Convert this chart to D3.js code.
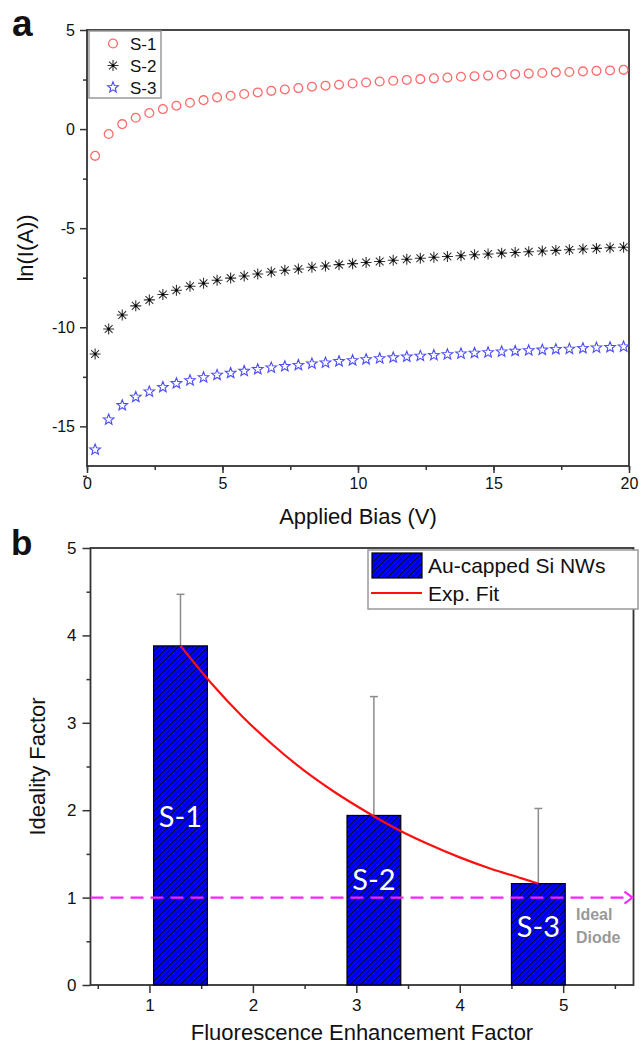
<!DOCTYPE html>
<html>
<head>
<meta charset="utf-8">
<script src="https://cdn.jsdelivr.net/npm/d3@7"></script>
<style>
  body { margin: 0; background: #fff; }
  text { font-family: "Liberation Sans", Arial, sans-serif; fill: #111; }
  .axis path, .axis line { stroke: #333; stroke-width: 1.5; }
  .axis text { font-size: 16px; fill: #111; }
</style>
</head>
<body>
<script>
// ---- panel a data : ln(I) vs applied bias ----
var biasV = [0.3, 0.8, 1.3, 1.8, 2.3, 2.8, 3.3, 3.8, 4.3, 4.8,
             5.3, 5.8, 6.3, 6.8, 7.3, 7.8, 8.3, 8.8, 9.3, 9.8,
             10.3, 10.8, 11.3, 11.8, 12.3, 12.8, 13.3, 13.8, 14.3, 14.8,
             15.3, 15.8, 16.3, 16.8, 17.3, 17.8, 18.3, 18.8, 19.3, 19.8];
var lnS1 = [-1.35, -0.25, 0.25, 0.57, 0.81, 1.01, 1.18, 1.33, 1.46, 1.60,
            1.68, 1.77, 1.85, 1.93, 2.00, 2.07, 2.14, 2.19, 2.24, 2.30,
            2.35, 2.40, 2.44, 2.48, 2.52, 2.56, 2.60, 2.64, 2.67, 2.70,
            2.74, 2.77, 2.80, 2.83, 2.86, 2.88, 2.91, 2.94, 2.96, 2.99];
var lnS2 = [-11.35, -10.09, -9.38, -8.92, -8.62, -8.35, -8.13, -7.93, -7.78, -7.63,
            -7.52, -7.41, -7.31, -7.21, -7.12, -7.06, -6.97, -6.91, -6.84, -6.79,
            -6.73, -6.68, -6.62, -6.57, -6.52, -6.47, -6.43, -6.39, -6.34, -6.30,
            -6.26, -6.23, -6.19, -6.15, -6.12, -6.09, -6.05, -6.02, -5.99, -5.96];
var lnS3 = [-16.18, -14.66, -13.94, -13.52, -13.25, -13.02, -12.83, -12.68, -12.53, -12.41,
            -12.31, -12.21, -12.12, -12.04, -11.97, -11.91, -11.84, -11.79, -11.72, -11.67,
            -11.62, -11.57, -11.53, -11.49, -11.45, -11.41, -11.37, -11.33, -11.30, -11.27,
            -11.23, -11.20, -11.17, -11.14, -11.11, -11.09, -11.06, -11.03, -11.01, -10.98];
var seriesNames = ["S-1", "S-2", "S-3"];
var aTicksX = [0, 5, 10, 15, 20];
var aTicksY = [-15, -10, -5, 0, 5];

// ---- panel b data : ideality factor vs enhancement ----
var samples = ["S-1", "S-2", "S-3"];
var enhancement = [1.30, 3.17, 4.76];
var ideality = [3.88, 1.94, 1.16];
var idealityUpper = [4.47, 3.30, 2.02];
var fitX = [1.30, 1.60, 1.90, 2.20, 2.50, 2.80, 3.10, 3.40, 3.70, 4.00, 4.30, 4.60, 4.76];
var fitY = [3.88, 3.45, 3.07, 2.74, 2.45, 2.20, 1.98, 1.78, 1.61, 1.46, 1.33, 1.22, 1.16];
var idealDiode = 1;
var bTicksX = [1, 2, 3, 4, 5];
var bTicksY = [0, 1, 2, 3, 4, 5];

var svg = d3.select("body").append("svg")
    .attr("width", 641)
    .attr("height", 1045);

var defs = svg.append("defs");
var hatch = defs.append("pattern")
    .attr("id", "hatch")
    .attr("patternUnits", "userSpaceOnUse")
    .attr("width", 5).attr("height", 5);
hatch.append("rect").attr("width", 5).attr("height", 5).attr("fill", "#0000ff");
hatch.append("path")
    .attr("d", "M0,5L5,0M-1,1L1,-1M4,6L6,4")
    .attr("stroke", "#000").attr("stroke-width", 0.8);

// ================= panel a =================
var xA = d3.scaleLinear().domain([0, 20]).range([87, 629]);
var yA = d3.scaleLinear().domain([-17, 5]).range([466, 30]);

var gA = svg.append("g");

gA.append("g").attr("class", "axis")
    .attr("transform", "translate(0," + yA(-17) + ")")
    .call(d3.axisBottom(xA).tickValues(d3.range(0, 20.1, 2.5)).tickSize(4).tickFormat(""));
gA.append("g").attr("class", "axis")
    .attr("transform", "translate(0," + yA(-17) + ")")
    .call(d3.axisBottom(xA).tickValues(aTicksX).tickSize(7).tickPadding(5).tickFormat(function(d) { return String(d); }));
gA.append("g").attr("class", "axis")
    .attr("transform", "translate(" + xA(0) + ",0)")
    .call(d3.axisLeft(yA).tickValues([-17.5, -12.5, -7.5, -2.5, 2.5]).tickSize(4).tickFormat(""));
gA.append("g").attr("class", "axis")
    .attr("transform", "translate(" + xA(0) + ",0)")
    .call(d3.axisLeft(yA).tickValues(aTicksY).tickSize(7).tickPadding(5).tickFormat(function(d) { return String(d); }));
gA.selectAll(".axis .domain").remove();

gA.append("rect")
    .attr("x", xA(0)).attr("y", yA(5))
    .attr("width", xA(20) - xA(0)).attr("height", yA(-17) - yA(5))
    .attr("fill", "none").attr("stroke", "#333").attr("stroke-width", 1.8);

function starPath(ro, ri) {
  var p = [];
  for (var i = 0; i < 10; i++) {
    var r = i % 2 ? ri : ro;
    var ang = -Math.PI / 2 + i * Math.PI / 5;
    p.push([r * Math.cos(ang), r * Math.sin(ang)]);
  }
  return "M" + p.join("L") + "Z";
}
var asterisk = "M0,-5.5V5.5M-5.5,0H5.5M-3.9,-3.9L3.9,3.9M-3.9,3.9L3.9,-3.9";

function drawMarker(sel, name) {
  if (name === "S-1") {
    sel.append("circle").attr("r", 4.4)
      .attr("fill", "none").attr("stroke", "#ff6b6b").attr("stroke-width", 1.3);
  } else if (name === "S-2") {
    sel.append("path").attr("d", asterisk)
      .attr("fill", "none").attr("stroke", "#333").attr("stroke-width", 1.1);
    sel.append("circle").attr("r", 1.3).attr("fill", "#000");
  } else {
    sel.append("path").attr("d", starPath(5.6, 2.4))
      .attr("fill", "none").attr("stroke", "#4b4bff").attr("stroke-width", 1.1);
  }
}

var seriesVals = [lnS1, lnS2, lnS3];
seriesNames.forEach(function(name, si) {
  gA.append("g").selectAll("g")
    .data(biasV.map(function(v, i) { return [v, seriesVals[si][i]]; }))
    .enter().append("g")
    .attr("transform", function(d) { return "translate(" + xA(d[0]) + "," + yA(d[1]) + ")"; })
    .each(function() { drawMarker(d3.select(this), name); });
});

// legend a
var legA = gA.append("g");
legA.append("rect")
    .attr("x", 89).attr("y", 31).attr("width", 72).attr("height", 67)
    .attr("fill", "#fff").attr("stroke", "#999").attr("stroke-width", 1.5);
seriesNames.forEach(function(name, i) {
  var row = legA.append("g").attr("transform", "translate(0," + (43.5 + i * 22) + ")");
  drawMarker(row.append("g").attr("transform", "translate(113,0)"), name);
  row.append("text").attr("x", 130).attr("y", 6)
    .style("font-size", "17px").text(name);
});

gA.append("text")
    .attr("x", (xA(0) + xA(20)) / 2).attr("y", 524)
    .attr("text-anchor", "middle").style("font-size", "22px")
    .text("Applied Bias (V)");
gA.append("text")
    .attr("transform", "translate(33," + (yA(5) + yA(-17)) / 2 + ") rotate(-90)")
    .attr("text-anchor", "middle").style("font-size", "22px")
    .text("ln(I(A))");
svg.append("text").attr("x", 12).attr("y", 36)
    .style("font-size", "37px").style("font-weight", "bold").text("a");

// ================= panel b =================
var xB = d3.scaleLinear().domain([0.43, 5.68]).range([90.5, 633.5]);
var yB = d3.scaleLinear().domain([0, 5]).range([985, 548]);
var barW = 0.52;

var gB = svg.append("g");

gB.append("g").attr("class", "axis axisB")
    .attr("transform", "translate(0," + yB(0) + ")")
    .call(d3.axisBottom(xB).tickValues([0.5, 1.5, 2.5, 3.5, 4.5, 5.5]).tickSize(4).tickFormat(""));
gB.append("g").attr("class", "axis axisB")
    .attr("transform", "translate(0," + yB(0) + ")")
    .call(d3.axisBottom(xB).tickValues(bTicksX).tickSize(8).tickPadding(6).tickFormat(function(d) { return String(d); }));
gB.append("g").attr("class", "axis axisB")
    .attr("transform", "translate(" + xB(0.43) + ",0)")
    .call(d3.axisLeft(yB).tickValues([0.5, 1.5, 2.5, 3.5, 4.5]).tickSize(4).tickFormat(""));
gB.append("g").attr("class", "axis axisB")
    .attr("transform", "translate(" + xB(0.43) + ",0)")
    .call(d3.axisLeft(yB).tickValues(bTicksY).tickSize(8).tickPadding(6).tickFormat(function(d) { return String(d); }));
gB.selectAll(".axis .domain").remove();
gB.selectAll(".axisB text").style("font-size", "17px");

gB.append("rect")
    .attr("x", xB(0.43)).attr("y", yB(5))
    .attr("width", xB(5.68) - xB(0.43)).attr("height", yB(0) - yB(5))
    .attr("fill", "none").attr("stroke", "#333").attr("stroke-width", 1.8);

// error bars (upper only)
samples.forEach(function(s, i) {
  var cx = xB(enhancement[i]);
  gB.append("line")
    .attr("x1", cx).attr("x2", cx)
    .attr("y1", yB(ideality[i])).attr("y2", yB(idealityUpper[i]))
    .attr("stroke", "#8c8c8c").attr("stroke-width", 1.5);
  gB.append("line")
    .attr("x1", cx - 4).attr("x2", cx + 4)
    .attr("y1", yB(idealityUpper[i])).attr("y2", yB(idealityUpper[i]))
    .attr("stroke", "#8c8c8c").attr("stroke-width", 1.5);
});

gB.selectAll(".bar")
    .data(samples)
    .enter().append("rect")
    .attr("class", "bar")
    .attr("x", function(d, i) { return xB(enhancement[i] - barW / 2); })
    .attr("y", function(d, i) { return yB(ideality[i]); })
    .attr("width", function(d, i) { return xB(enhancement[i] + barW / 2) - xB(enhancement[i] - barW / 2); })
    .attr("height", function(d, i) { return yB(0) - yB(ideality[i]); })
    .attr("fill", "url(#hatch)")
    .attr("stroke", "#000").attr("stroke-width", 1.2);

// ideal diode dashed line with arrow
gB.append("line")
    .attr("x1", xB(0.43)).attr("x2", xB(5.68) - 2)
    .attr("y1", yB(idealDiode)).attr("y2", yB(idealDiode))
    .attr("stroke", "#ff22ff").attr("stroke-width", 2.2)
    .attr("stroke-dasharray", "13,7");
gB.append("path")
    .attr("d", "M" + (xB(5.68) - 9) + "," + (yB(idealDiode) - 6) + "L" + (xB(5.68) - 1) + "," + yB(idealDiode) +
               "L" + (xB(5.68) - 9) + "," + (yB(idealDiode) + 6))
    .attr("fill", "none").attr("stroke", "#ff22ff").attr("stroke-width", 2);

// exp fit
gB.append("path")
    .datum(fitX.map(function(v, i) { return [v, fitY[i]]; }))
    .attr("d", d3.line().x(function(d) { return xB(d[0]); }).y(function(d) { return yB(d[1]); }).curve(d3.curveMonotoneX))
    .attr("fill", "none").attr("stroke", "#ff1010").attr("stroke-width", 2.2);

// bar labels
var labelY = [827, 890, 937];
samples.forEach(function(s, i) {
  gB.append("text")
    .attr("x", xB(enhancement[i])).attr("y", labelY[i])
    .attr("text-anchor", "middle")
    .style("font-family", "Lato, 'Open Sans', sans-serif")
    .style("font-size", "29px").style("fill", "#fff")
    .text(s);
});

gB.append("text").attr("x", 576).attr("y", 920)
    .style("font-size", "16px").style("font-weight", "bold").style("fill", "#999").text("Ideal");
gB.append("text").attr("x", 576).attr("y", 943)
    .style("font-size", "16px").style("font-weight", "bold").style("fill", "#999").text("Diode");

// legend b
var legB = gB.append("g");
legB.append("rect")
    .attr("x", 368).attr("y", 550).attr("width", 270).attr("height", 59)
    .attr("fill", "#fff").attr("stroke", "#999").attr("stroke-width", 1.5);
legB.append("rect")
    .attr("x", 372).attr("y", 553).attr("width", 50).attr("height", 25)
    .attr("fill", "url(#hatch)").attr("stroke", "#000").attr("stroke-width", 1.2);
legB.append("text").attr("x", 428).attr("y", 573)
    .style("font-size", "21px").text("Au-capped Si NWs");
legB.append("line")
    .attr("x1", 371).attr("x2", 422).attr("y1", 593).attr("y2", 593)
    .attr("stroke", "#ff1010").attr("stroke-width", 2);
legB.append("text").attr("x", 428).attr("y", 601)
    .style("font-size", "21px").text("Exp. Fit");

gB.append("text")
    .attr("x", (xB(0.43) + xB(5.68)) / 2).attr("y", 1040)
    .attr("text-anchor", "middle").style("font-size", "22px")
    .text("Fluorescence Enhancement Factor");
gB.append("text")
    .attr("transform", "translate(45," + (yB(5) + yB(0)) / 2 + ") rotate(-90)")
    .attr("text-anchor", "middle").style("font-size", "22px")
    .text("Ideality Factor");
svg.append("text").attr("x", 11).attr("y", 555)
    .style("font-size", "35px").style("font-weight", "bold").text("b");
</script>
</body>
</html>
